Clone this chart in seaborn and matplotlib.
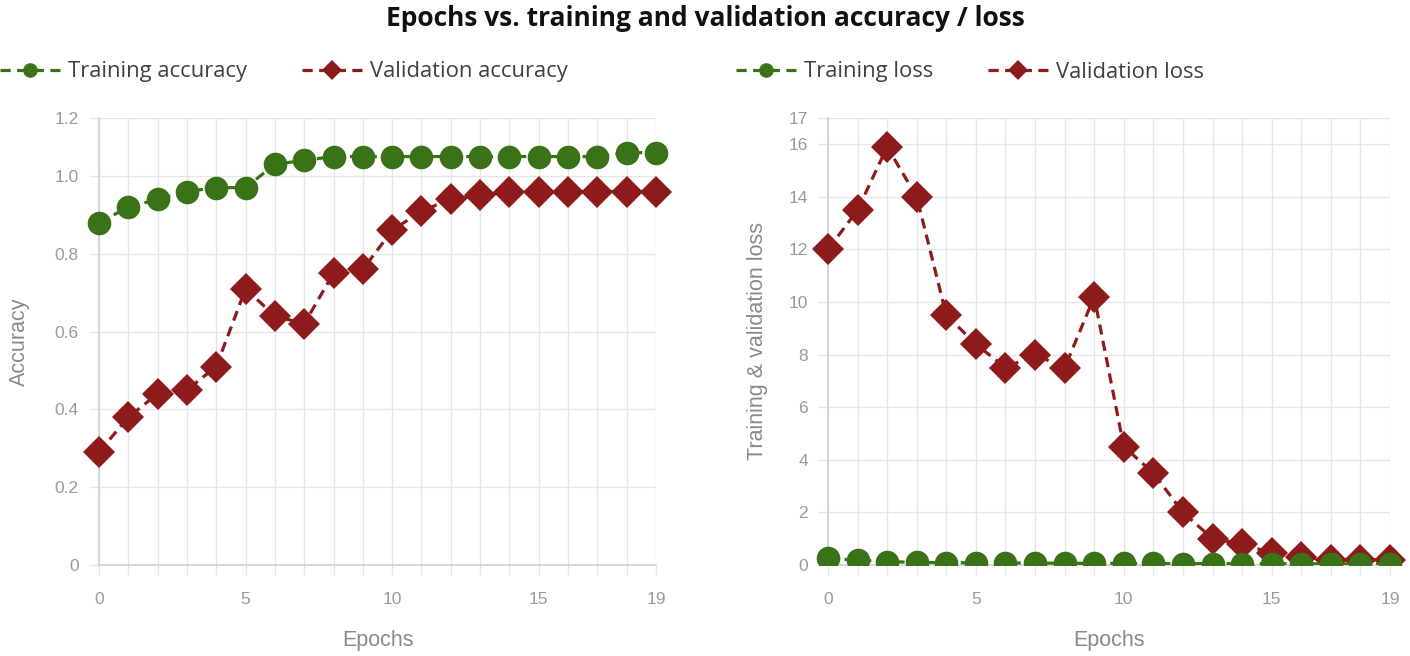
import matplotlib
matplotlib.use('Agg')
import matplotlib.pyplot as plt
from matplotlib.lines import Line2D
from matplotlib.patches import Rectangle
import seaborn as sns

# values
epochs = list(range(20))
train_acc = [0.88, 0.92, 0.94, 0.96, 0.97, 0.97, 1.03, 1.04, 1.05, 1.05,
             1.05, 1.05, 1.05, 1.05, 1.05, 1.05, 1.05, 1.05, 1.06, 1.06]
val_acc = [0.29, 0.38, 0.44, 0.45, 0.51, 0.71, 0.64, 0.62, 0.75, 0.76,
           0.86, 0.91, 0.94, 0.95, 0.96, 0.96, 0.96, 0.96, 0.96, 0.96]
train_loss = [0.26, 0.18, 0.13, 0.10, 0.09, 0.08, 0.08, 0.07, 0.07, 0.06,
              0.06, 0.06, 0.05, 0.05, 0.05, 0.05, 0.05, 0.04, 0.04, 0.04]
val_loss = [12.0, 13.5, 15.9, 14.0, 9.5, 8.4, 7.5, 8.0, 7.5, 10.2,
            4.5, 3.5, 2.0, 1.0, 0.8, 0.45, 0.3, 0.2, 0.2, 0.2]

x_tick_labels = ['0', '5', '10', '15', '19']
acc_ticks = [0, 0.2, 0.4, 0.6, 0.8, 1.0, 1.149]
acc_tick_labels = ['0', '0.2', '0.4', '0.6', '0.8', '1.0', '1.2']
loss_ticks = [0, 2, 4, 6, 8, 10, 12, 14, 16, 17]

GREEN = '#3a7317'
RED = '#8e1b1b'
GRID = '#e6e6e6'
TICK_TXT = '#9a9a9a'

sns.set_theme(style='white')
plt.rcParams['font.family'] = ['Liberation Sans', 'DejaVu Sans']

fig = plt.figure(figsize=(14.1, 6.56), dpi=100)
ax1 = fig.add_axes([99 / 1410, 1 - 565 / 656, 557 / 1410, 447 / 656])
ax2 = fig.add_axes([828 / 1410, 1 - 565 / 656, 562 / 1410, 447 / 656])

dash = (0, (3.2, 2.0))


def draw(ax, y, color, marker, ms, z):
    sns.lineplot(x=epochs, y=y, ax=ax, color=color, marker=marker, markersize=ms,
                 markeredgewidth=0, linewidth=2.3, linestyle=dash, zorder=z)
    # keep markers visible past the left/right edges but cut at the baseline
    clip = Rectangle((-0.1, 0), 1.2, 1.5, transform=ax.transAxes)
    for ln in ax.lines[-1:]:
        ln.set_clip_path(clip)


draw(ax1, val_acc, RED, 'D', 16, 3)
draw(ax1, train_acc, GREEN, 'o', 17, 4)
draw(ax2, val_loss, RED, 'D', 16, 3)
draw(ax2, train_loss, GREEN, 'o', 17, 4)

for ax, ticks, labels, ylabel, ytop in [
        (ax1, acc_ticks, acc_tick_labels, 'Accuracy', 1.149),
        (ax2, loss_ticks, [str(t) for t in loss_ticks], 'Training & validation loss', 17)]:
    ax.set_xlim(0, 19)
    ax.set_ylim(0, ytop)
    ax.set_xticks(epochs)
    ax.set_xticklabels([str(e) if str(e) in x_tick_labels else '' for e in epochs])
    ax.set_yticks(ticks)
    ax.set_yticklabels(labels)
    ax.grid(True, color=GRID, linewidth=1)
    ax.set_axisbelow(True)
    ax.tick_params(axis='both', length=7.5, width=1, color=GRID, labelcolor=TICK_TXT,
                   labelsize=12.5, direction='out', bottom=True, left=True)
    ax.tick_params(axis='x', pad=12)
    ax.tick_params(axis='y', pad=7)
    for side in ['top', 'right']:
        ax.spines[side].set_visible(False)
    for side in ['left', 'bottom']:
        ax.spines[side].set_color('#d0d0d0')
        ax.spines[side].set_linewidth(1.2)
    ax.set_xlabel('Epochs', fontsize=15.5, color='#8a8a8a')
    ax.set_ylabel(ylabel, fontsize=15.5, color='#8a8a8a')
    ax.xaxis.set_label_coords(0.5, -0.145)

ax1.yaxis.set_label_coords(-0.124, 0.5)
ax2.yaxis.set_label_coords(-0.107, 0.5)


def legend_items(names):
    return [Line2D([], [], color=GREEN, marker='o', markersize=10.5, markeredgewidth=0,
                   linewidth=2.3, linestyle=dash, label=names[0]),
            Line2D([], [], color=RED, marker='D', markersize=10, markeredgewidth=0,
                   linewidth=2.3, linestyle=dash, label=names[1])]


leg_font = {'family': ['Open Sans', 'DejaVu Sans'], 'size': 15.8}
for x0, names in [(0.0, ['Training accuracy', 'Validation accuracy']),
                  (736 / 1410, ['Training loss', 'Validation loss'])]:
    leg = fig.legend(handles=legend_items(names), loc='center left',
                     bbox_to_anchor=(x0, 1 - 72 / 656), ncol=2, frameon=False,
                     prop=leg_font, handlelength=2.75, handletextpad=0.35,
                     columnspacing=2.5, borderpad=0, borderaxespad=0)
    for t in leg.get_texts():
        t.set_color('#404040')

fig.suptitle('Epochs vs. training and validation accuracy / loss', x=0.5, y=1 - 19 / 656,
             va='center', fontsize=19, fontweight='bold', color='#111111',
             family=['Open Sans', 'DejaVu Sans'])

fig.savefig('out.png', dpi=100)
